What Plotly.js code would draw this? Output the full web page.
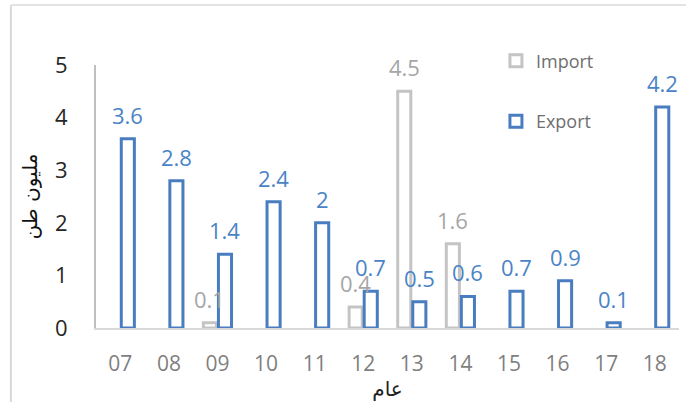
<!DOCTYPE html>
<html>
<head>
<meta charset="utf-8">
<script src="https://cdn.plot.ly/plotly-3.0.1.min.js"></script>
<style>
  html, body { margin: 0; padding: 0; background: #ffffff; }
  #chart { width: 686px; height: 402px; }
</style>
</head>
<body>
<div id="chart"></div>
<script>
const categories = ['07', '08', '09', '10', '11', '12', '13', '14', '15', '16', '17', '18'];
const importVals = [null, null, 0.1, null, null, 0.4, 4.5, 1.6, null, null, null, null];
const exportVals = [3.6, 2.8, 1.4, 2.4, 2, 0.7, 0.5, 0.6, 0.7, 0.9, 0.1, 4.2];
const yTicks = [0, 1, 2, 3, 4, 5];

const BLUE = '#4a7dc0';
const BLUE_TXT = '#4a84c6';
const GRAY = '#c4c4c4';
const GRAY_TXT = '#a6a6a6';

const traces = [
  {
    type: 'bar', name: 'Import', x: categories, y: importVals,
    legendgroup: 'imp',
    marker: { color: '#ffffff', line: { color: GRAY, width: 3 } },
    hoverinfo: 'skip'
  },
  {
    type: 'bar', name: 'Export', x: categories, y: exportVals,
    legendgroup: 'exp',
    marker: { color: '#ffffff', line: { color: BLUE, width: 3 } },
    hoverinfo: 'skip'
  }
];

const annotations = [];
function addLabels(vals, shift, color) {
  vals.forEach((v, i) => {
    if (v === null) return;
    annotations.push({
      x: i, y: v, xref: 'x', yref: 'y',
      text: String(v), showarrow: false,
      xshift: shift, yshift: 24, yanchor: 'middle', xanchor: 'center',
      font: { family: 'Open Sans, sans-serif', size: 22, color: color }
    });
  });
}
addLabels(importVals, -7.5, GRAY_TXT);
addLabels(exportVals, 7.5, BLUE_TXT);

const layout = {
  width: 686, height: 402,
  margin: { l: 96, r: 7, t: 65, b: 74, pad: 0 },
  paper_bgcolor: '#ffffff', plot_bgcolor: '#ffffff',
  barmode: 'group', bargap: 0.38, bargroupgap: 0.13,
  font: { family: 'Open Sans, sans-serif' },
  showlegend: true,
  legend: {
    x: 0.686, y: 1.085, xanchor: 'left', yanchor: 'top',
    traceorder: 'grouped', tracegroupgap: 34,
    itemwidth: 30,
    font: { family: 'Open Sans, sans-serif', size: 18, color: '#6f6f6f' },
    bgcolor: 'rgba(0,0,0,0)'
  },
  xaxis: {
    type: 'category', range: [-0.5, categories.length - 0.5],
    showline: true, linecolor: '#d9d9d9', linewidth: 2,
    showgrid: false, zeroline: false, ticks: '',
    ticklabelstandoff: 16,
    tickfont: { family: 'Open Sans, sans-serif', size: 21, color: '#7f7f7f' },
    title: { text: 'عام', standoff: 3, font: { family: 'DejaVu Sans, sans-serif', size: 20, color: '#222222' } }
  },
  yaxis: {
    range: [0, 5], tickvals: yTicks,
    showline: true, linecolor: '#bfbfbf', linewidth: 2,
    showgrid: false, zeroline: false, ticks: '',
    ticklabelstandoff: 22,
    tickfont: { family: 'Open Sans, sans-serif', size: 22, color: '#262626' },
    title: { text: 'مليون طن', standoff: 12, font: { family: 'DejaVu Sans, sans-serif', size: 20, color: '#111111' } }
  },
  annotations: annotations,
  shapes: [
    { type: 'line', xref: 'paper', yref: 'paper', x0: -0.146, x1: -0.146, y0: -0.3, y1: 1.228,
      line: { color: '#d9d9d9', width: 2 } },
    { type: 'line', xref: 'paper', yref: 'paper', x0: -0.146, x1: 1.02, y0: 1.228, y1: 1.228,
      line: { color: '#e3e3e3', width: 2 } }
  ]
};

Plotly.newPlot('chart', traces, layout, { displayModeBar: false, staticPlot: true });
</script>
</body>
</html>
